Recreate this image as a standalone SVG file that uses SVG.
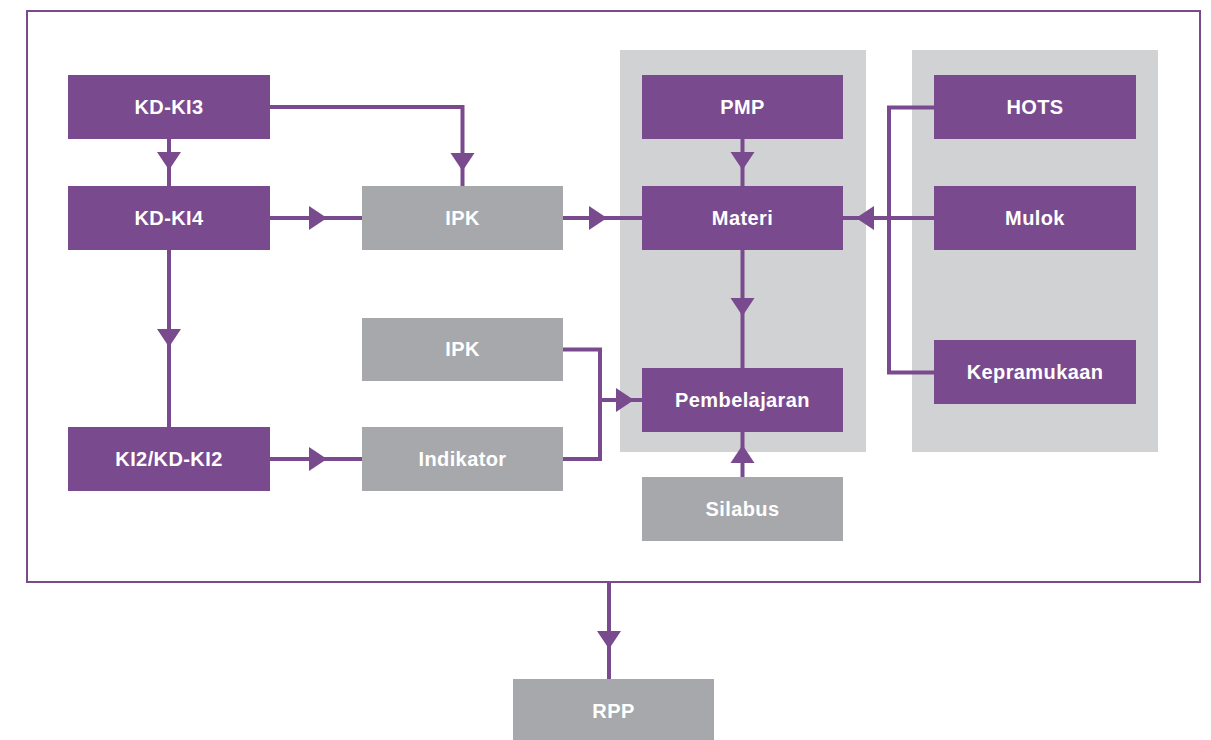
<svg xmlns="http://www.w3.org/2000/svg" width="1211" height="740" viewBox="0 0 1211 740">
<style>
.p{fill:#7A4A8E}
.g{fill:#A7A8AB}
.panel{fill:#D1D2D4}
.t{fill:#fff;font-family:"Liberation Sans",Arial,sans-serif;font-weight:bold;font-size:20px;text-anchor:middle;letter-spacing:0.4px}
.c{fill:none;stroke:#7A4A8E;stroke-width:4}
.a{fill:#7A4A8E}
</style>
<defs>
<path id="ah" d="M-18,-12 L0,0 L-18,12 Z"/>
</defs>
<rect x="0" y="0" width="1211" height="740" fill="#fff"/>
<rect x="27" y="11" width="1173" height="571" fill="none" stroke="#7A4A8E" stroke-width="2"/>
<rect class="panel" x="620" y="50" width="246" height="402"/>
<rect class="panel" x="912" y="50" width="246" height="402"/>
<g id="connectors">
<path class="c" d="M270,107 H462.5 V186"/>
<path class="c" d="M169,139 V186"/>
<path class="c" d="M270,218 H362"/>
<path class="c" d="M169,250 V427"/>
<path class="c" d="M563,218 H642"/>
<path class="c" d="M742.5,139 V186"/>
<path class="c" d="M742.5,250 V368"/>
<path class="c" d="M934,218 H843"/>
<path class="c" d="M934,107.5 H889 V372.5 H934"/>
<path class="c" d="M563,349.5 H600 V459 H563"/>
<path class="c" d="M600,400 H642"/>
<path class="c" d="M270,459 H362"/>
<path class="c" d="M742.5,477 V432"/>
<path class="c" d="M609,582 V679"/>
<use href="#ah" class="a" transform="translate(169,170) rotate(90)"/>
<use href="#ah" class="a" transform="translate(327,218)"/>
<use href="#ah" class="a" transform="translate(462.5,171) rotate(90)"/>
<use href="#ah" class="a" transform="translate(607,218)"/>
<use href="#ah" class="a" transform="translate(742.5,170) rotate(90)"/>
<use href="#ah" class="a" transform="translate(856,218) rotate(180)"/>
<use href="#ah" class="a" transform="translate(742.5,316) rotate(90)"/>
<use href="#ah" class="a" transform="translate(634,400)"/>
<use href="#ah" class="a" transform="translate(742.5,445) rotate(-90)"/>
<use href="#ah" class="a" transform="translate(169,347) rotate(90)"/>
<use href="#ah" class="a" transform="translate(327,459)"/>
<use href="#ah" class="a" transform="translate(609,649) rotate(90)"/>
</g>
<g id="kdki3"><rect class="p" x="68" y="75" width="202" height="64"/><text class="t" x="169" y="114">KD-KI3</text></g>
<g id="kdki4"><rect class="p" x="68" y="186" width="202" height="64"/><text class="t" x="169" y="225">KD-KI4</text></g>
<g id="ki2"><rect class="p" x="68" y="427" width="202" height="64"/><text class="t" x="169" y="466">KI2/KD-KI2</text></g>
<g id="ipk1"><rect class="g" x="362" y="186" width="201" height="64"/><text class="t" x="462.5" y="225">IPK</text></g>
<g id="ipk2"><rect class="g" x="362" y="318" width="201" height="63"/><text class="t" x="462.5" y="356">IPK</text></g>
<g id="indikator"><rect class="g" x="362" y="427" width="201" height="64"/><text class="t" x="462.5" y="466">Indikator</text></g>
<g id="pmp"><rect class="p" x="642" y="75" width="201" height="64"/><text class="t" x="742.5" y="114">PMP</text></g>
<g id="materi"><rect class="p" x="642" y="186" width="201" height="64"/><text class="t" x="742.5" y="225">Materi</text></g>
<g id="pembelajaran"><rect class="p" x="642" y="368" width="201" height="64"/><text class="t" x="742.5" y="407">Pembelajaran</text></g>
<g id="silabus"><rect class="g" x="642" y="477" width="201" height="64"/><text class="t" x="742.5" y="516">Silabus</text></g>
<g id="hots"><rect class="p" x="934" y="75" width="202" height="64"/><text class="t" x="1035" y="114">HOTS</text></g>
<g id="mulok"><rect class="p" x="934" y="186" width="202" height="64"/><text class="t" x="1035" y="225">Mulok</text></g>
<g id="kepramukaan"><rect class="p" x="934" y="340" width="202" height="64"/><text class="t" x="1035" y="379">Kepramukaan</text></g>
<g id="rpp"><rect class="g" x="513" y="679" width="201" height="64"/><text class="t" x="613.5" y="718">RPP</text></g>
</svg>
